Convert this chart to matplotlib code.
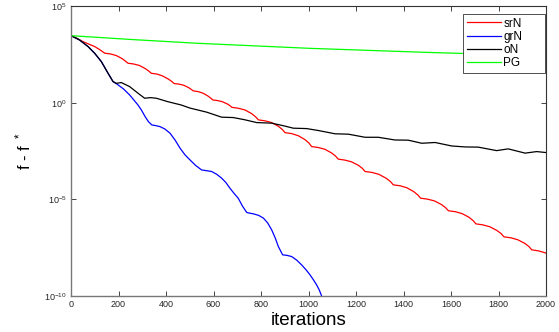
import numpy as np
import matplotlib
matplotlib.use("Agg")
import matplotlib.pyplot as plt
from matplotlib.ticker import FixedLocator, FuncFormatter

plt.rcParams['font.family'] = ['Liberation Sans', 'DejaVu Sans']
plt.rcParams['mathtext.default'] = 'regular'

# ---- data (log10 of f - f*) ----
srN_iter = [0, 25, 50, 100, 120, 142, 166, 190, 215, 230, 240, 264, 289, 313, 328, 338,
            362, 386, 410, 425, 434, 454, 475, 495, 507, 515, 536, 556, 577, 589, 597,
            617, 637, 657, 669, 677, 705, 733, 761, 778, 789, 817, 845, 873, 890, 901,
            929, 957, 985, 1002, 1013, 1041, 1069, 1097, 1114, 1125, 1153, 1181, 1210,
            1227, 1238, 1268, 1297, 1327, 1345, 1357, 1386, 1414, 1443, 1460, 1472, 1501,
            1530, 1560, 1577, 1589, 1618, 1647, 1676, 1693, 1705, 1734, 1764, 1793, 1811,
            1823, 1852, 1881, 1911, 1928, 1940, 1970, 2000]
srN_log = [3.465, 3.33, 3.16, 2.90, 2.75, 2.56, 2.52, 2.44, 2.28, 2.14, 2.04, 2.00, 1.92,
           1.76, 1.63, 1.52, 1.48, 1.38, 1.22, 1.09, 0.99, 0.96, 0.90, 0.78, 0.68, 0.61,
           0.57, 0.49, 0.34, 0.23, 0.14, 0.11, 0.05, -0.06, -0.15, -0.24, -0.29, -0.38,
           -0.57, -0.74, -0.89, -0.94, -1.03, -1.22, -1.39, -1.55, -1.60, -1.71, -1.91,
           -2.09, -2.27, -2.32, -2.41, -2.60, -2.76, -2.92, -2.97, -3.06, -3.24, -3.40,
           -3.56, -3.61, -3.71, -3.91, -4.08, -4.25, -4.30, -4.40, -4.60, -4.77, -4.94,
           -4.99, -5.08, -5.27, -5.43, -5.59, -5.64, -5.74, -5.93, -6.10, -6.27, -6.32,
           -6.42, -6.61, -6.77, -6.94, -6.99, -7.09, -7.28, -7.44, -7.61, -7.67, -7.78]

grN_iter = [0, 35, 72, 100, 128, 156, 177, 191, 198, 220, 247, 282, 296, 312, 326, 340,
            358, 375, 395, 417, 438, 459, 480, 501, 525, 550, 571, 592, 613, 634, 652,
            669, 687, 704, 722, 740, 754, 768, 790, 810, 828, 845, 860, 873, 891, 910,
            929, 950, 971, 990, 1006, 1020, 1034, 1045, 1055, 1070]
grN_log = [3.465, 3.25, 2.90, 2.55, 2.12, 1.52, 1.09, 0.98, 0.92, 0.72, 0.40, -0.12,
           -0.37, -0.72, -0.98, -1.15, -1.19, -1.24, -1.36, -1.58, -1.93, -2.35, -2.70,
           -2.96, -3.25, -3.48, -3.52, -3.56, -3.70, -3.90, -4.13, -4.42, -4.70, -4.94,
           -5.35, -5.68, -5.72, -5.75, -5.83, -5.97, -6.22, -6.58, -7.00, -7.44, -7.87,
           -7.90, -7.96, -8.14, -8.39, -8.65, -8.90, -9.15, -9.42, -9.68, -9.99, -10.7]

oN_iter = [0, 35, 72, 100, 128, 156, 177, 191, 212, 247, 282, 310, 335, 359, 408, 464,
           501, 571, 634, 683, 730, 782, 845, 890, 936, 992, 1041, 1112, 1168, 1238, 1294,
           1364, 1420, 1477, 1533, 1603, 1660, 1715, 1792, 1841, 1912, 1961, 2000]
oN_log = [3.465, 3.25, 2.90, 2.55, 2.12, 1.52, 1.09, 1.00, 1.04, 0.83, 0.49, 0.23, 0.26,
          0.23, 0.05, -0.12, -0.28, -0.49, -0.75, -0.77, -0.88, -1.03, -1.06, -1.18,
          -1.32, -1.34, -1.44, -1.61, -1.63, -1.79, -1.79, -1.93, -1.94, -2.10, -2.06,
          -2.24, -2.29, -2.30, -2.48, -2.39, -2.61, -2.53, -2.58]

PG_iter = [0, 1, 250, 535, 1006, 1500, 2000]
PG_log = [6.0, 3.465, 3.27, 3.07, 2.81, 2.60, 2.42]

series = [
    ("srN", srN_iter, srN_log, "#ff0000"),
    ("grN", grN_iter, grN_log, "#0000ff"),
    ("oN", oN_iter, oN_log, "#000000"),
    ("PG", PG_iter, PG_log, "#00ff00"),
]

x_ticks = [0, 200, 400, 600, 800, 1000, 1200, 1400, 1600, 1800, 2000]
y_tick_exps = [-10, -5, 0, 5]

fig = plt.figure(figsize=(5.59, 3.32), dpi=100)
ax = fig.add_axes([71/559, 36/332, 475/559, 290/332])

for name, it, lg, col in series:
    ax.plot(it, np.power(10.0, np.array(lg)), color=col, lw=0.9, label=name)

ax.set_yscale('log')
ax.set_xlim(0, 2000)
ax.set_ylim(1e-10, 1e5)
ax.xaxis.set_major_locator(FixedLocator(x_ticks))
ax.yaxis.set_major_locator(FixedLocator([10.0**e for e in y_tick_exps]))
ax.yaxis.set_minor_locator(FixedLocator([]))
ax.yaxis.set_major_formatter(FuncFormatter(lambda v, p: '10$^{%d}$' % int(round(np.log10(v)))))

ax.tick_params(axis='both', which='major', direction='in', length=3.5, width=0.6,
               top=True, right=True, labelsize=6.5, colors='#262626', pad=3)
ax.tick_params(axis='y', which='minor', length=0)
for s in ['left', 'bottom']:
    ax.spines[s].set_color('#777777')
    ax.spines[s].set_linewidth(1.0)
for s in ['top', 'right']:
    ax.spines[s].set_color('#333333')
    ax.spines[s].set_linewidth(0.8)

ax.set_xlabel('iterations', fontsize=13.5, labelpad=2)
ax.set_ylabel('f - f $^*$', fontsize=12, labelpad=8)

leg = ax.legend(loc='upper left', mode='expand',
                bbox_to_anchor=(463/559, 1 - 75/332, 82/559, 61/332),
                bbox_transform=fig.transFigure, borderaxespad=0, fontsize=8.5,
                handlelength=2.9, handletextpad=0.2, labelspacing=0.1, borderpad=0.3,
                fancybox=False, framealpha=1, edgecolor='#333333')
leg.get_frame().set_linewidth(0.6)

fig.savefig('out.png', dpi=100)
